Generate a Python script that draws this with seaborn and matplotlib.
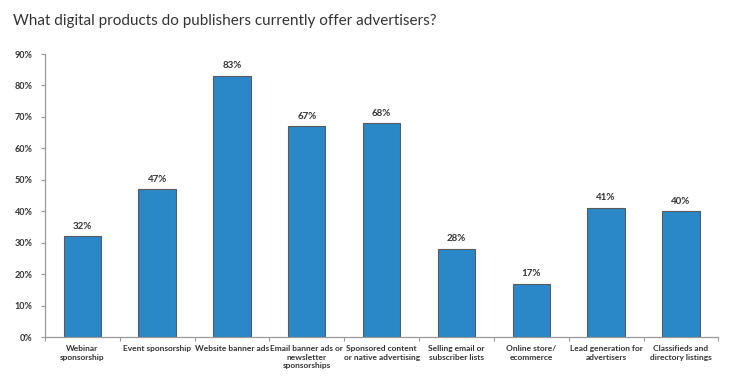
import matplotlib
matplotlib.use("Agg")
import matplotlib.pyplot as plt
import seaborn as sns
import numpy as np
import pandas as pd
from matplotlib.ticker import FixedLocator, PercentFormatter

categories = [
    "Webinar\nsponsorship",
    "Event sponsorship",
    "Website banner ads",
    "Email banner ads or\nnewsletter\nsponsorships",
    "Sponsored content\nor native advertising",
    "Selling email or\nsubscriber lists",
    "Online store/\necommerce",
    "Lead generation for\nadvertisers",
    "Classifieds and\ndirectory listings",
]
values = [32, 47, 83, 67, 68, 28, 17, 41, 40]
yticks = [0, 10, 20, 30, 40, 50, 60, 70, 80, 90]

sns.set_theme(style="white")
plt.rcParams['font.family'] = ['Lato', 'DejaVu Sans']

df = pd.DataFrame({"cat": categories, "val": values})

fig = plt.figure(figsize=(7.36, 3.83), dpi=100)
ax = fig.add_axes([0.061, 0.12, 0.915, 0.739])

sns.barplot(data=df, x="cat", y="val", color="#2A87C8", width=0.5,
            edgecolor="#5a5a5a", linewidth=0.8, saturation=1, ax=ax)

for i, v in enumerate(values):
    ax.text(i, v + 1.8, f"{v}%", ha="center", va="bottom", fontsize=7,
            color="#333333", fontweight="bold")

ax.set_ylim(0, 90)
ax.set_xlim(-0.5, len(categories) - 0.5)
ax.set_yticks(yticks)
ax.yaxis.set_major_formatter(PercentFormatter(decimals=0))
ax.set_xlabel("")
ax.set_ylabel("")
ax.tick_params(axis="y", labelsize=6.5, labelcolor="#333333", left=True,
               length=3, width=0.8, color="#999999", pad=6)
for lbl in ax.get_yticklabels():
    lbl.set_fontweight("bold")
ax.tick_params(axis="x", which="major", length=0, labelsize=6,
               labelcolor="#333333", pad=6)
for lbl in ax.get_xticklabels():
    lbl.set_fontweight("bold")
ax.xaxis.set_minor_locator(FixedLocator(np.arange(-0.5, len(categories), 1.0)))
ax.tick_params(axis="x", which="minor", bottom=True, length=3, width=0.8,
               color="#999999")

for s in ["top", "right"]:
    ax.spines[s].set_visible(False)
for s in ["left", "bottom"]:
    ax.spines[s].set_color("#999999")
    ax.spines[s].set_linewidth(0.9)

fig.text(0.018, 0.945, "What digital products do publishers currently offer advertisers?",
         fontsize=11, color="#333333", ha="left", va="center")

fig.savefig("out.png", dpi=100)
